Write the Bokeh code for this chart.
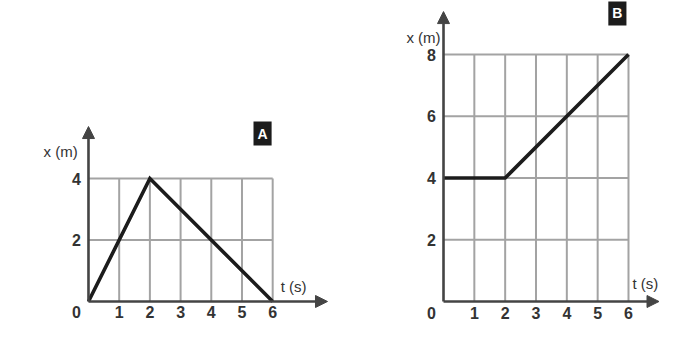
from bokeh.plotting import figure
from bokeh.models import Range1d, Arrow, NormalHead, Label, ColumnDataSource
from bokeh.layouts import row
from bokeh.embed import file_html
from bokeh.resources import INLINE
from bokeh.core.properties import value

# ---- data ----
t_A = [0, 2, 6]
x_A = [0, 4, 0]
t_B = [0, 2, 6]
x_B = [4, 4, 8]
t_ticks = [1, 2, 3, 4, 5, 6]
t_labels = ["1", "2", "3", "4", "5", "6"]
yA_ticks = [2, 4]
yA_labels = ["2", "4"]
yB_ticks = [2, 4, 6, 8]
yB_labels = ["2", "4", "6", "8"]

FONT_NAME = "Liberation Sans"
FONT = value(FONT_NAME)
TXT = "#333333"
GRID = "#a3a3a3"
AX = "#444444"


def panel(width, xr, yr, t, x, y_ticks, y_labels, xarrow_end, yarrow_end,
          xname_pos, yname_pos, badge_pos, badge):
    p = figure(width=width, height=322, x_range=Range1d(*xr), y_range=Range1d(*yr),
               output_backend="svg", toolbar_location=None, min_border=0)
    p.axis.visible = False
    p.grid.visible = False
    p.outline_line_color = None
    p.background_fill_color = "white"
    p.border_fill_color = "white"

    tmax = max(t_ticks)
    ymax = max(y_ticks)
    # grid
    p.segment(x0=t_ticks, y0=[0] * len(t_ticks), x1=t_ticks, y1=[ymax] * len(t_ticks),
              line_color=GRID, line_width=2)
    p.segment(x0=[0] * len(y_ticks), y0=y_ticks, x1=[tmax] * len(y_ticks), y1=y_ticks,
              line_color=GRID, line_width=2)
    # axes with arrows
    p.add_layout(Arrow(end=NormalHead(size=12, fill_color=AX, line_color=AX),
                       x_start=0, y_start=0, x_end=xarrow_end, y_end=0,
                       line_color=AX, line_width=2.6))
    p.add_layout(Arrow(end=NormalHead(size=12, fill_color=AX, line_color=AX),
                       x_start=0, y_start=0, x_end=0, y_end=yarrow_end,
                       line_color=AX, line_width=2.6))
    # data line
    p.line(t, x, line_color="#1c1c1c", line_width=3.6, line_join="miter")

    # tick labels
    src_t = ColumnDataSource(dict(x=t_ticks, y=[0] * len(t_ticks), text=t_labels))
    p.text(x="x", y="y", text="text", source=src_t, text_font=FONT, text_font_style="bold",
           text_font_size="16px", text_color=TXT, text_align="center",
           text_baseline="middle", y_offset=11)
    src_y = ColumnDataSource(dict(x=[0] * len(y_ticks), y=y_ticks, text=y_labels))
    p.text(x="x", y="y", text="text", source=src_y, text_font=FONT, text_font_style="bold",
           text_font_size="16px", text_color=TXT, text_align="center",
           text_baseline="middle", x_offset=-12)
    p.text(x=[0], y=[0], text=["0"], text_font=FONT, text_font_style="bold",
           text_font_size="16px", text_color=TXT, text_align="center",
           text_baseline="middle", x_offset=-12, y_offset=11)

    # axis names
    p.add_layout(Label(x=xname_pos[0], y=xname_pos[1], text="t (s)", text_font=FONT_NAME,
                       text_font_size="15px", text_color=TXT, text_align="center",
                       text_baseline="middle"))
    p.add_layout(Label(x=yname_pos[0], y=yname_pos[1], text="x (m)", text_font=FONT_NAME,
                       text_font_size="15px", text_color=TXT, text_align="center",
                       text_baseline="middle"))
    # badge
    p.add_layout(Label(x=badge_pos[0], y=badge_pos[1], text=badge, text_font=FONT_NAME,
                       text_font_style="bold", text_font_size="14px", text_color="white",
                       text_align="center", text_baseline="middle",
                       background_fill_color="#1c1c1c", padding=4))
    return p


pA = panel(370, (-2.866, 9.186), (-0.683, 9.789), t_A, x_A, yA_ticks, yA_labels,
           7.785, 5.69, (6.68, 0.49), (-0.91, 4.88), (5.67, 5.46), "A")
pB = panel(289, (-2.368, 7.006), (-0.680, 9.749), t_B, x_B, yB_ticks, yB_labels,
           6.99, 9.39, (6.55, 0.58), (-0.65, 8.55), (5.64, 9.33), "B")

layout = row(pA, pB)
open("out.html", "w").write(file_html(layout, INLINE))
